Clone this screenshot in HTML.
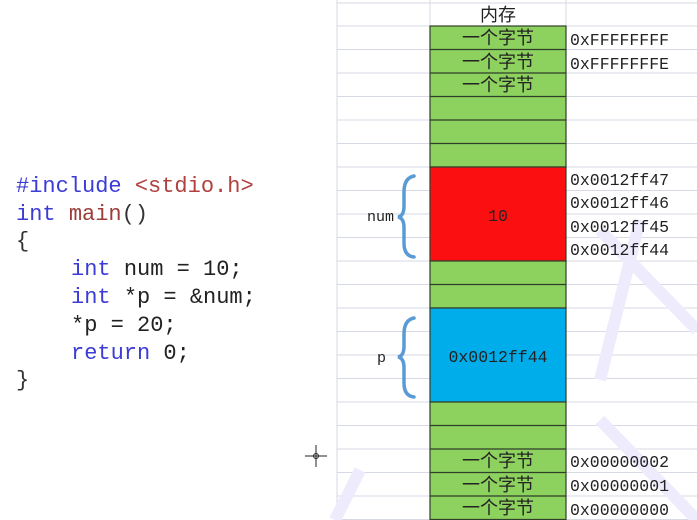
<!DOCTYPE html>
<html><head><meta charset="utf-8"><style>
html,body{margin:0;padding:0;background:#fff;width:697px;height:520px;overflow:hidden}
svg{display:block}
.code{font-family:"Liberation Mono","Noto Sans CJK SC",monospace;font-size:22px}
.cn{font-family:"Liberation Sans","Noto Sans CJK SC",sans-serif;font-size:18px;fill:#222}
.mono{font-family:"Liberation Mono",monospace;font-size:16.5px;fill:#222}
</style></head><body>
<svg width="697" height="520" xmlns="http://www.w3.org/2000/svg">
<g stroke="#d5dae6" stroke-width="1">
<line x1="337" y1="3" x2="697" y2="3"/>
<line x1="337" y1="26" x2="697" y2="26"/><line x1="337" y1="49.5" x2="697" y2="49.5"/><line x1="337" y1="73" x2="697" y2="73"/><line x1="337" y1="96.5" x2="697" y2="96.5"/><line x1="337" y1="120" x2="697" y2="120"/><line x1="337" y1="143.5" x2="697" y2="143.5"/><line x1="337" y1="167" x2="697" y2="167"/><line x1="337" y1="190.5" x2="697" y2="190.5"/><line x1="337" y1="214" x2="697" y2="214"/><line x1="337" y1="237.5" x2="697" y2="237.5"/><line x1="337" y1="261" x2="697" y2="261"/><line x1="337" y1="284.5" x2="697" y2="284.5"/><line x1="337" y1="308" x2="697" y2="308"/><line x1="337" y1="331.5" x2="697" y2="331.5"/><line x1="337" y1="355" x2="697" y2="355"/><line x1="337" y1="378.5" x2="697" y2="378.5"/><line x1="337" y1="402" x2="697" y2="402"/><line x1="337" y1="425.5" x2="697" y2="425.5"/><line x1="337" y1="449" x2="697" y2="449"/><line x1="337" y1="472.5" x2="697" y2="472.5"/><line x1="337" y1="496" x2="697" y2="496"/><line x1="337" y1="519.5" x2="697" y2="519.5"/>
<line x1="337" y1="0" x2="337" y2="520"/><line x1="430" y1="0" x2="430" y2="520"/><line x1="566" y1="0" x2="566" y2="520"/>
</g>
<g stroke="#eeecfc" stroke-width="12" fill="none">
<path d="M600 230 L697 330"/><path d="M640 220 L600 380"/><path d="M520 480 L560 500"/><path d="M360 470 L335 520"/><path d="M600 420 L697 520"/>
</g>
<g stroke="#2f3f2a" stroke-width="1.2">
<rect x="430" y="26" width="136" height="141" fill="#8dd15f"/>
<line x1="430" y1="49.5" x2="566" y2="49.5"/><line x1="430" y1="73" x2="566" y2="73"/><line x1="430" y1="96.5" x2="566" y2="96.5"/><line x1="430" y1="120" x2="566" y2="120"/><line x1="430" y1="143.5" x2="566" y2="143.5"/>
<rect x="430" y="167" width="136" height="94" fill="#fb0f10"/>
<rect x="430" y="261" width="136" height="47" fill="#8dd15f"/><line x1="430" y1="284.5" x2="566" y2="284.5"/>
<rect x="430" y="308" width="136" height="94" fill="#00adeb"/>
<rect x="430" y="402" width="136" height="120" fill="#8dd15f"/>
<line x1="430" y1="425.5" x2="566" y2="425.5"/><line x1="430" y1="449" x2="566" y2="449"/><line x1="430" y1="472.5" x2="566" y2="472.5"/><line x1="430" y1="496" x2="566" y2="496"/><line x1="430" y1="519.5" x2="566" y2="519.5"/>
</g>
<text class="cn" x="498" y="21" text-anchor="middle">内存</text>
<text class="cn" x="498" y="44" text-anchor="middle">一个字节</text>
<text class="cn" x="498" y="68" text-anchor="middle">一个字节</text>
<text class="cn" x="498" y="91" text-anchor="middle">一个字节</text>
<text class="cn" x="498" y="467" text-anchor="middle">一个字节</text>
<text class="cn" x="498" y="491" text-anchor="middle">一个字节</text>
<text class="cn" x="498" y="514" text-anchor="middle">一个字节</text>
<text class="mono" x="498" y="221" text-anchor="middle">10</text>
<text class="mono" x="498" y="362" text-anchor="middle">0x0012ff44</text>
<text class="mono" x="570" y="45">0xFFFFFFFF</text>
<text class="mono" x="570" y="69">0xFFFFFFFE</text>
<text class="mono" x="570" y="185">0x0012ff47</text>
<text class="mono" x="570" y="208">0x0012ff46</text>
<text class="mono" x="570" y="232">0x0012ff45</text>
<text class="mono" x="570" y="255">0x0012ff44</text>
<text class="mono" x="570" y="467">0x00000002</text>
<text class="mono" x="570" y="491">0x00000001</text>
<text class="mono" x="570" y="515">0x00000000</text>
<text class="mono" x="367" y="221" style="font-size:15px">num</text>
<text class="mono" x="377" y="362" style="font-size:15px">p</text>
<g fill="none" stroke="#5b9bd5" stroke-width="3.5" stroke-linecap="round">
<path d="M414 176 Q404 178 404 192 L404 206 Q404 216 398 217 Q404 218 404 228 L404 243 Q404 256 414 257"/>
<path d="M414 318 Q404 320 404 334 L404 346 Q404 356 398 357 Q404 358 404 368 L404 383 Q404 396 414 397"/>
</g>
<g class="code">
<text x="16" y="192"><tspan fill="#3b3bd6">#include </tspan><tspan fill="#b0413e">&lt;stdio.h&gt;</tspan></text>
<text x="16" y="220"><tspan fill="#3b3bd6">int </tspan><tspan fill="#9c3d3a">main</tspan><tspan fill="#333">()</tspan></text>
<text x="16" y="247" fill="#333">{</text>
<text x="71" y="275"><tspan fill="#3b3bd6">int </tspan><tspan fill="#222">num = 10;</tspan></text>
<text x="71" y="303"><tspan fill="#3b3bd6">int </tspan><tspan fill="#222">*p = &amp;num;</tspan></text>
<text x="71" y="331" fill="#222">*p = 20;</text>
<text x="71" y="359"><tspan fill="#3b3bd6">return </tspan><tspan fill="#222">0;</tspan></text>
<text x="16" y="386" fill="#333">}</text>
</g>
<g stroke="#222" stroke-width="1">
<line x1="305" y1="456" x2="327" y2="456"/><line x1="316" y1="445" x2="316" y2="467"/>
<circle cx="316" cy="456" r="2.5" fill="none"/>
</g>
</svg>
</body></html>
